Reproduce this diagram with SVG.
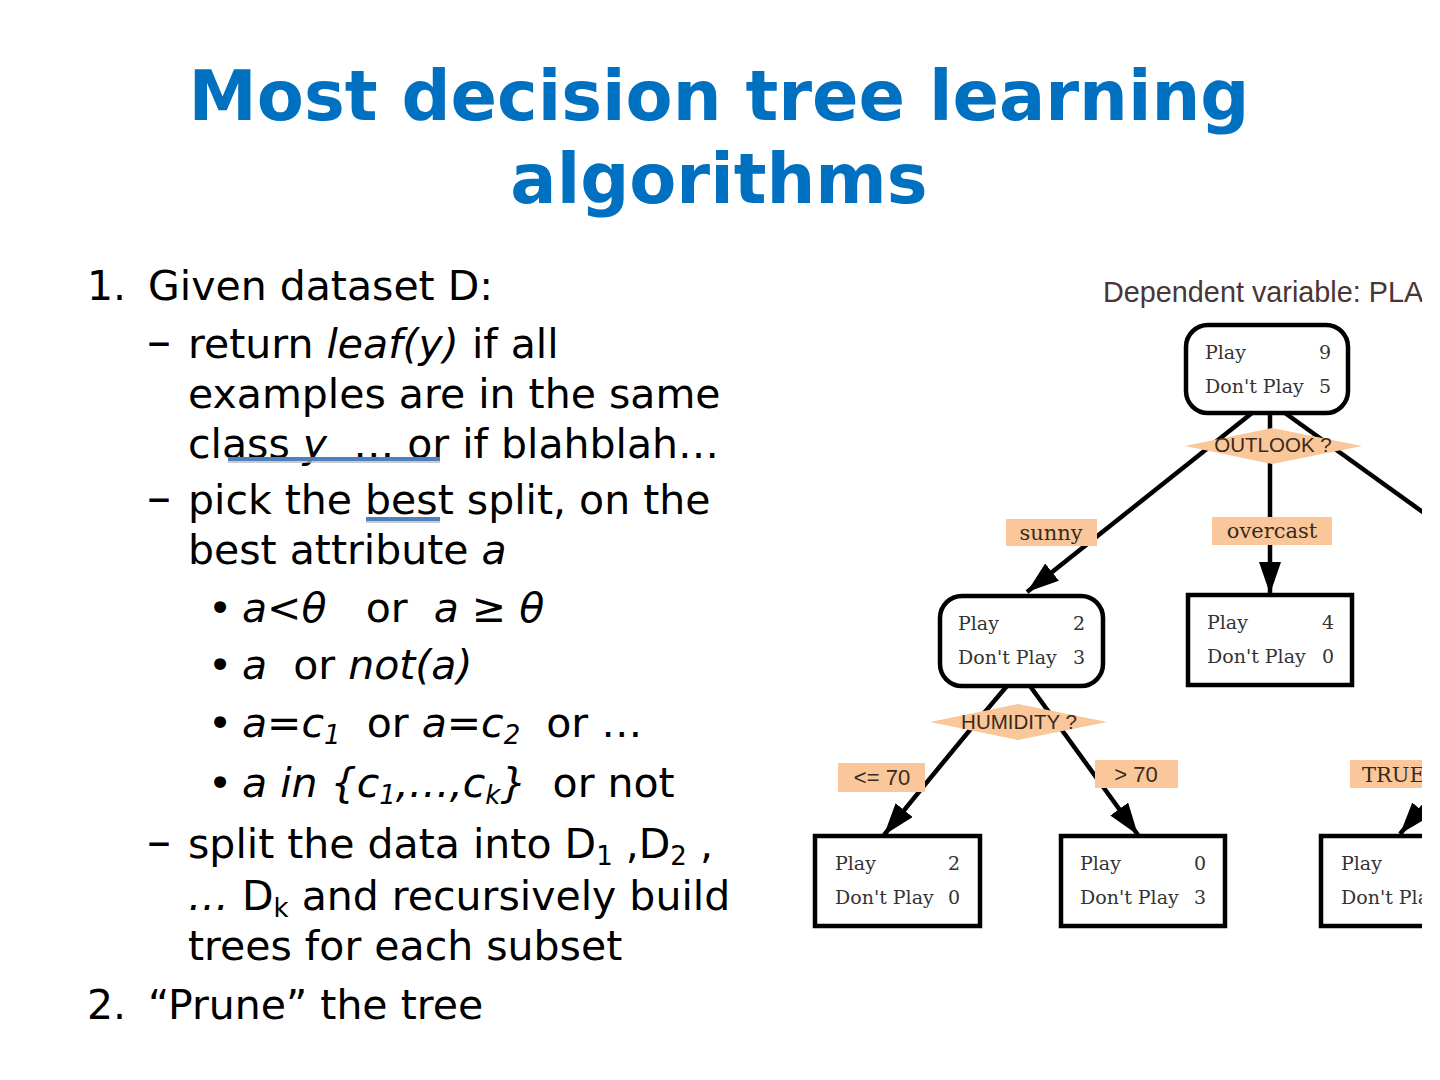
<svg xmlns="http://www.w3.org/2000/svg" width="1440" height="1080" viewBox="0 0 1440 1080" xml:space="preserve">
<style>
text{white-space:pre}
.title{font-family:"DejaVu Sans",sans-serif;font-weight:bold;font-size:68.6px;fill:#0070C0;text-anchor:middle}
.body{font-family:"DejaVu Sans",sans-serif;font-size:41px;fill:#000}
.dash{font-size:48px}
.it{font-style:italic}
.sub{font-size:26px}
.ul{stroke:#4F7FBC;stroke-width:4}
.uls{stroke:#b8b8b8;stroke-width:1.5}
.nt{font-family:"DejaVu Serif",serif;font-size:19px;fill:#333}
.num{text-anchor:end}
.box{fill:#fff;stroke:#000;stroke-width:4.5}
.peach{fill:#F9C79A}
.dt{font-family:"Liberation Sans",sans-serif;font-size:20.5px;fill:#3a2a1a;text-anchor:middle}
.el{font-family:"DejaVu Serif",serif;font-size:21px;fill:#3a2a1a;text-anchor:middle}
.els{font-family:"Liberation Sans",sans-serif;font-size:22px;fill:#3a2a1a;text-anchor:middle}
.edge{stroke:#000;stroke-width:4.5;fill:none}
.dep{font-family:"Liberation Sans",sans-serif;font-size:28.8px;fill:#4a3535}
</style>
<defs>
<marker id="arr" viewBox="0 0 32 22" refX="32" refY="11" markerWidth="32" markerHeight="22" markerUnits="userSpaceOnUse" orient="auto">
<path d="M0,0 L32,11 L0,22 z" fill="#000"/>
</marker>
<clipPath id="clip"><rect x="0" y="0" width="1422" height="1080"/></clipPath>
</defs>
<rect width="1440" height="1080" fill="#fff"/>

<g id="title">
<text class="title" x="719" y="120">Most decision tree learning</text>
<text class="title" x="719" y="203">algorithms</text>
</g>

<g id="bullets" class="body">
<text class="body" x="87" y="300">1.</text>
<text class="body" x="148" y="300">Given dataset D:</text>
<text class="body dash" x="147" y="358">–</text>
<text class="body" x="188" y="358">return <tspan class="it">leaf(y)</tspan> if all</text>
<text class="body" x="188" y="408">examples are in the same</text>
<text class="body" x="188" y="458">class <tspan class="it">y</tspan>  … or if blahblah…</text>
<line class="uls" x1="228" y1="462" x2="440" y2="462"/>
<line class="ul" x1="228" y1="459" x2="440" y2="459"/>
<text class="body dash" x="147" y="514">–</text>
<text class="body" x="188" y="514">pick the best split, on the</text>
<line class="uls" x1="366" y1="522" x2="440" y2="522"/>
<line class="ul" x1="366" y1="519" x2="440" y2="519"/>
<text class="body" x="188" y="564">best attribute <tspan class="it">a</tspan></text>
<text class="body" x="208" y="622">•</text>
<text class="body" x="242" y="622"><tspan class="it">a&lt;θ</tspan>   or  <tspan class="it">a ≥ θ</tspan></text>
<text class="body" x="208" y="679">•</text>
<text class="body" x="242" y="679"><tspan class="it">a</tspan>  or <tspan class="it">not(a)</tspan></text>
<text class="body" x="208" y="737">•</text>
<text class="body" x="242" y="737"><tspan class="it">a=c</tspan><tspan class="it sub" dy="7">1</tspan><tspan dy="-7">  or </tspan><tspan class="it">a=c</tspan><tspan class="it sub" dy="7">2</tspan><tspan dy="-7">  or …</tspan></text>
<text class="body" x="208" y="797">•</text>
<text class="body" x="242" y="797"><tspan class="it">a in {c</tspan><tspan class="it sub" dy="7">1</tspan><tspan class="it" dy="-7">,…,c</tspan><tspan class="it sub" dy="7">k</tspan><tspan class="it" dy="-7">}</tspan>  or not</text>
<text class="body dash" x="147" y="858">–</text>
<text class="body" x="188" y="858">split the data into D<tspan class="sub" dy="7">1</tspan><tspan dy="-7"> ,D</tspan><tspan class="sub" dy="7">2</tspan><tspan dy="-7"> ,</tspan></text>
<text class="body" x="188" y="910"><tspan class="it">…</tspan> D<tspan class="sub" dy="7">k</tspan><tspan dy="-7"> and recursively build</tspan></text>
<text class="body" x="188" y="960">trees for each subset</text>
<text class="body" x="87" y="1019">2.</text>
<text class="body" x="148" y="1019">“Prune” the tree</text>
</g>

<g id="tree" clip-path="url(#clip)">
<text id="dep-label" class="dep" x="1103" y="302">Dependent variable: PLA</text>

<g id="connectors">
<path class="edge" d="M1252,413 L1027,592" marker-end="url(#arr)"/>
<path class="edge" d="M1270,413 L1270,594" marker-end="url(#arr)"/>
<path class="edge" d="M1285,413 L1470,546"/>
<path class="edge" d="M1007,686 Q965,735 884,835" marker-end="url(#arr)"/>
<path class="edge" d="M1030,686 L1138,835" marker-end="url(#arr)"/>
<path class="edge" d="M1450,775 L1400,834" marker-end="url(#arr)"/>
</g>

<g id="root">
<rect class="box" x="1186" y="325" width="162" height="88" rx="22"/>
<text class="nt" x="1205" y="359">Play</text><text class="nt num" x="1331" y="359">9</text>
<text class="nt" x="1205" y="393">Don't Play</text><text class="nt num" x="1331" y="393">5</text>
</g>
<g id="outlook">
<polygon class="peach" points="1185,446 1272,428 1362,446 1272,464"/>
<text class="dt" x="1273" y="452">OUTLOOK ?</text>
</g>
<g id="lbl-sunny">
<rect class="peach" x="1006" y="519" width="91" height="27"/>
<text class="el" x="1051" y="540">sunny</text>
</g>
<g id="lbl-overcast">
<rect class="peach" x="1212" y="517" width="120" height="28"/>
<text class="el" x="1272" y="538">overcast</text>
</g>
<g id="sunny-node">
<rect class="box" x="940" y="596" width="163" height="90" rx="22"/>
<text class="nt" x="958" y="630">Play</text><text class="nt num" x="1085" y="630">2</text>
<text class="nt" x="958" y="664">Don't Play</text><text class="nt num" x="1085" y="664">3</text>
</g>
<g id="overcast-node">
<rect class="box" x="1188" y="595" width="164" height="90"/>
<text class="nt" x="1207" y="629">Play</text><text class="nt num" x="1334" y="629">4</text>
<text class="nt" x="1207" y="663">Don't Play</text><text class="nt num" x="1334" y="663">0</text>
</g>
<g id="humidity">
<polygon class="peach" points="930,722 1018,704 1107,722 1018,740"/>
<text class="dt" x="1019" y="729">HUMIDITY ?</text>
</g>
<g id="lbl-le70">
<rect class="peach" x="838" y="763" width="87" height="29"/>
<text class="els" x="882" y="785">&lt;= 70</text>
</g>
<g id="lbl-gt70">
<rect class="peach" x="1095" y="760" width="83" height="28"/>
<text class="els" x="1136" y="782">&gt; 70</text>
</g>
<g id="lbl-true">
<rect class="peach" x="1350" y="760" width="90" height="28"/>
<text class="el" x="1362" y="782" style="text-anchor:start">TRUE</text>
</g>
<g id="le70-node">
<rect class="box" x="815" y="836" width="165" height="90"/>
<text class="nt" x="835" y="870">Play</text><text class="nt num" x="960" y="870">2</text>
<text class="nt" x="835" y="904">Don't Play</text><text class="nt num" x="960" y="904">0</text>
</g>
<g id="gt70-node">
<rect class="box" x="1061" y="836" width="164" height="90"/>
<text class="nt" x="1080" y="870">Play</text><text class="nt num" x="1206" y="870">0</text>
<text class="nt" x="1080" y="904">Don't Play</text><text class="nt num" x="1206" y="904">3</text>
</g>
<g id="true-node">
<rect class="box" x="1321" y="836" width="160" height="90"/>
<text class="nt" x="1341" y="870">Play</text>
<text class="nt" x="1341" y="904">Don't Pla</text>
</g>
</g>
</svg>
